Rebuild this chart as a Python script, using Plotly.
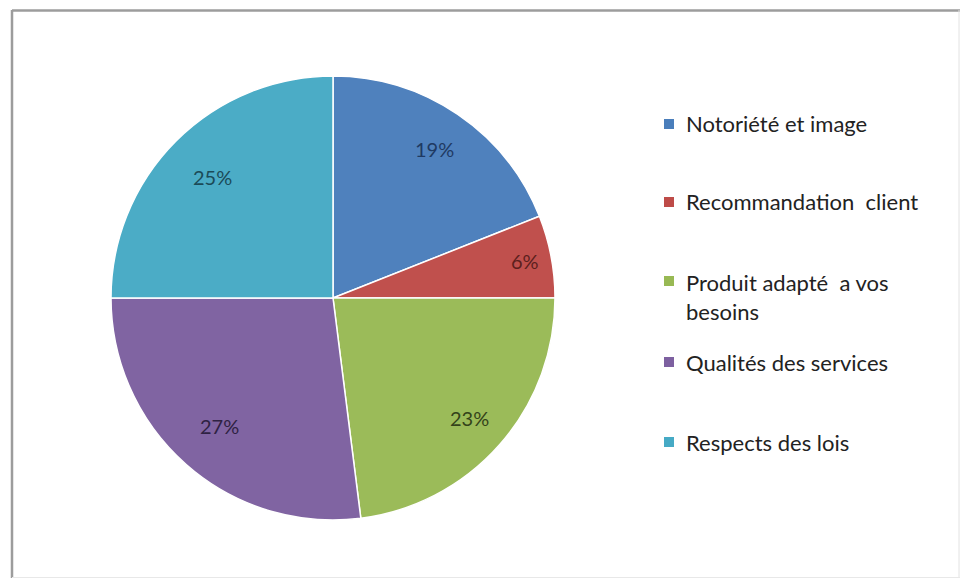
import math
import plotly.graph_objects as go

# Survey shares by criterion
categories = ["Notoriété et image", "Recommandation client",
              "Produit adapté  a vos besoins", "Qualités des services",
              "Respects des lois"]
legend_text = ["Notoriété et image", "Recommandation  client",
               "Produit adapté  a vos<br>besoins", "Qualités des services",
               "Respects des lois"]
shares = [19, 6, 23, 27, 25]

slice_colors = ["#4F81BD", "#C0504D", "#9BBB59", "#8064A2", "#4BACC6"]
label_colors = ["#1F3A63", "#5C1F1D", "#34431A", "#2F2243", "#1B4B58"]
legend_colors = ["#4A7EBB", "#BE4B48", "#98B954", "#7D60A0", "#46AAC5"]

W, H = 962, 580
CX, CY, R = 333, 298, 222          # pie centre and radius in pixels
label_radius = [0.81, 0.88, 0.82, 0.77, 0.77]
legend_y = [124, 202, 297, 362, 442]  # pixel centre of each legend block
legend_lines = [1, 1, 2, 1, 1]
FONT = "Lato, 'Open Sans', sans-serif"

fig = go.Figure(go.Pie(
    labels=categories,
    values=shares,
    sort=False,
    direction="clockwise",
    rotation=0,
    marker=dict(colors=slice_colors, line=dict(color="white", width=1.5)),
    textinfo="none",
    hoverinfo="label+percent",
    showlegend=False,
    domain=dict(x=[(CX - R) / W, (CX + R) / W],
                y=[1 - (CY + R) / H, 1 - (CY - R) / H]),
))

annotations = []
shapes = []

# Percentage labels placed along each slice's bisector
total = sum(shares)
cum = 0
for i, v in enumerate(shares):
    mid = (cum + v / 2) / total * 2 * math.pi
    cum += v
    px = CX + label_radius[i] * R * math.sin(mid)
    py = CY - label_radius[i] * R * math.cos(mid)
    annotations.append(dict(
        x=px / W, y=1 - py / H, xref="paper", yref="paper",
        text=f"{round(v / total * 100)}%", showarrow=False,
        font=dict(family=FONT, size=20, color=label_colors[i]),
        xanchor="center", yanchor="middle"))

# Legend: coloured square + label
SQ_X0, SQ = 664, 10
TEXT_X = 684
line_h = 32
for i, name in enumerate(legend_text):
    yc = legend_y[i]
    first_line = yc - (legend_lines[i] - 1) * line_h / 2
    shapes.append(dict(
        type="rect", xref="paper", yref="paper",
        x0=SQ_X0 / W, x1=(SQ_X0 + SQ) / W,
        y0=1 - (first_line + SQ / 2) / H, y1=1 - (first_line - SQ / 2) / H,
        fillcolor=legend_colors[i], line=dict(width=0)))
    annotations.append(dict(
        x=TEXT_X / W, y=1 - yc / H, xref="paper", yref="paper",
        text=name, showarrow=False, align="left",
        font=dict(family=FONT, size=22, color="#222222"),
        xanchor="left", yanchor="middle"))

# Chart frame
shapes += [
    dict(type="line", xref="paper", yref="paper",
         x0=12 / W, x1=12 / W, y0=1 - 578 / H, y1=1 - 10 / H,
         line=dict(color="#9c9c9c", width=2.5)),
    dict(type="line", xref="paper", yref="paper",
         x0=12 / W, x1=960 / W, y0=1 - 10.5 / H, y1=1 - 10.5 / H,
         line=dict(color="#9c9c9c", width=2.5)),
    dict(type="line", xref="paper", yref="paper",
         x0=959 / W, x1=959 / W, y0=1 - 578 / H, y1=1 - 10 / H,
         line=dict(color="#e2e2e2", width=1)),
    dict(type="line", xref="paper", yref="paper",
         x0=12 / W, x1=960 / W, y0=1 - 577.5 / H, y1=1 - 577.5 / H,
         line=dict(color="#e8e8e8", width=1)),
]

fig.update_layout(
    width=W, height=H,
    margin=dict(l=0, r=0, t=0, b=0),
    paper_bgcolor="white",
    plot_bgcolor="white",
    annotations=annotations,
    shapes=shapes,
)

fig.write_html("out.html")
